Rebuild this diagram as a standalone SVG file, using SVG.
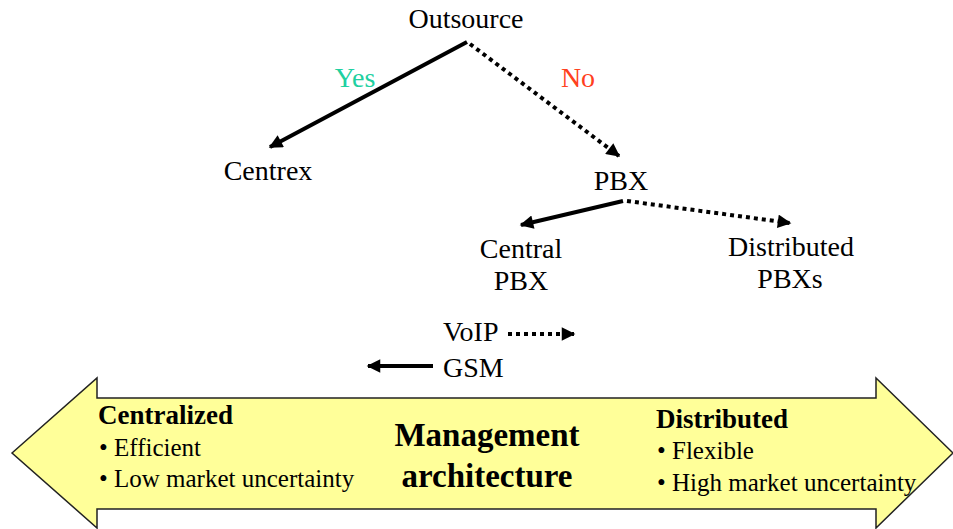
<svg xmlns="http://www.w3.org/2000/svg" width="953" height="529" viewBox="0 0 953 529">
  <defs>
    <marker id="head" viewBox="0 0 10 10" refX="9" refY="5" markerWidth="4" markerHeight="3.4" orient="auto" markerUnits="strokeWidth">
      <path d="M0,0 L10,5 L0,10 Z" fill="#000"/>
    </marker>
    <style>
      .lbl { font-size: 28px; }
      .item { font-size: 25px; }
      .head { font-size: 27px; font-weight: bold; }
      .title { font-size: 33px; font-weight: bold; }
      .solid { stroke: #000; stroke-width: 4; fill: none; marker-end: url(#head); }
      .dot { stroke: #000; stroke-width: 4; fill: none; stroke-dasharray: 4 4; marker-end: url(#head); }
    </style>
  </defs>
  <rect width="953" height="529" fill="#fff"/>

  <g font-family="'Liberation Serif', 'DejaVu Serif', serif" fill="#000">
  <!-- double-headed band: management architecture -->
  <g id="band">
    <path d="M12,453 L97,378 L97,398 L876,398 L876,378 L953,453 L876,528 L876,509 L97,509 L97,528 Z" fill="#ffff99" stroke="#222" stroke-width="1.5"/>
    <text class="title" x="487" y="446" text-anchor="middle">Management</text>
    <text class="title" x="487" y="487" text-anchor="middle">architecture</text>
  </g>
  <g id="centralized">
    <text class="head" x="98" y="424">Centralized</text>
    <text class="item" x="99" y="456">• Efficient</text>
    <text class="item" x="99" y="487">• Low market uncertainty</text>
  </g>
  <g id="distributed">
    <text class="head" x="656" y="428">Distributed</text>
    <text class="item" x="657" y="459">• Flexible</text>
    <text class="item" x="657" y="491">• High market uncertainty</text>
  </g>

  <!-- decision nodes -->
  <g id="outsource"><text class="lbl" x="466" y="28" text-anchor="middle">Outsource</text></g>
  <g id="centrex"><text class="lbl" x="268" y="180" text-anchor="middle">Centrex</text></g>
  <g id="pbx"><text class="lbl" x="621" y="190" text-anchor="middle">PBX</text></g>
  <g id="central-pbx">
    <text class="lbl" x="521" y="258" text-anchor="middle">Central</text>
    <text class="lbl" x="521" y="290" text-anchor="middle">PBX</text>
  </g>
  <g id="distributed-pbxs">
    <text class="lbl" x="791" y="256" text-anchor="middle">Distributed</text>
    <text class="lbl" x="790" y="288" text-anchor="middle">PBXs</text>
  </g>
  <g id="voip"><text class="lbl" x="443" y="341">VoIP</text></g>
  <g id="gsm"><text class="lbl" x="443" y="377">GSM</text></g>

  <!-- connectors -->
  <g id="connectors">
    <line class="solid" x1="467" y1="42" x2="270" y2="147"/>
    <line class="dot" x1="470" y1="44" x2="619" y2="156"/>
    <line class="solid" x1="623" y1="201" x2="521" y2="225"/>
    <line class="dot" x1="627" y1="201" x2="790" y2="223"/>
    <line class="dot" x1="508" y1="334" x2="574" y2="334"/>
    <line class="solid" x1="433" y1="366" x2="368" y2="366"/>
    <text x="355" y="87" font-size="28" text-anchor="middle" fill="#20d0a0">Yes</text>
    <text x="578" y="87" font-size="28" text-anchor="middle" fill="#ff4020">No</text>
  </g>
  </g>
</svg>
